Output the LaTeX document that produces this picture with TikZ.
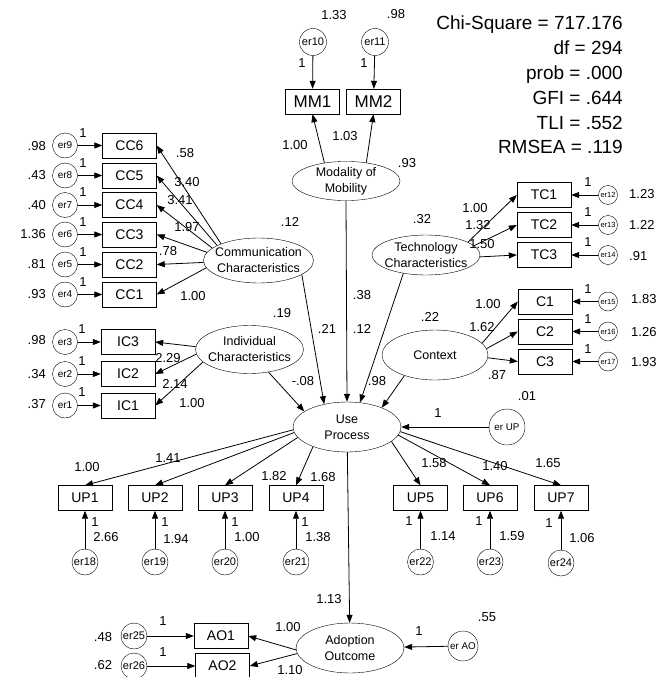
\documentclass[tikz,border=0pt]{standalone}
\usepackage{fontspec}
\setmainfont{Liberation Sans}
\usetikzlibrary{arrows.meta, shapes.geometric}
\newcommand{\mline}[1]{\makebox[0pt]{#1}}
\tikzset{
  obs/.style={draw, minimum width=54pt, minimum height=25pt, inner sep=0pt, font=\fontsize{14}{16}\selectfont},
  lat/.style={draw, ellipse, minimum width=108pt, minimum height=46pt, inner sep=0pt, align=center,
    font=\fontsize{12.5}{16}\selectfont},
  err/.style={draw, circle, minimum size=25pt, inner sep=0pt, font=\fontsize{10}{11}\selectfont},
  num/.style={inner sep=0pt, font=\fontsize{13}{15}\selectfont},
  arr/.style={-{Triangle[length=8pt, width=6pt]}, line width=0.8pt},
}

\begin{document}
\begin{tikzpicture}[x=1pt, y=-1pt,
      errw/.style={err, minimum size=26pt, font=\fontsize{11}{12}\selectfont},
      errs/.style={err, minimum size=19pt, font=\fontsize{7.5}{8}\selectfont},
      errb/.style={err, minimum size=#1, font=\fontsize{9.8}{11}\selectfont}]
  \useasboundingbox (0,0) rectangle (665,677);
  % fit indices
  \node[anchor=north east, align=right, inner sep=0pt, font=\fontsize{19}{24.8}\selectfont] (fit) at (623,16)
    {Chi-Square = 717.176\\df = 294\\prob = .000\\GFI = .644\\TLI = .552\\RMSEA = .119};

  % latent variables
  \node[lat, minimum width=108pt, minimum height=38pt] (mob) at (346,181) {\mline{Modality of}\\\mline{Mobility}};
  \node[lat, minimum width=110pt, minimum height=45pt] (comm) at (258.5,260.5) {\mline{Communication}\\\mline{Characteristics}};
  \node[lat, minimum width=108pt, minimum height=48pt] (indiv) at (249.5,349.5) {\mline{Individual}\\\mline{Characteristics}};
  \node[lat, minimum width=108pt, minimum height=40pt] (tech) at (426,255) {\mline{Technology}\\\mline{Characteristics}};
  \node[lat, minimum width=106pt, minimum height=50pt] (ctx) at (435,355) {\mline{Context}};
  \node[lat, minimum width=108pt, minimum height=50pt] (use) at (347,427) {\mline{Use}\\\mline{Process}};
  \node[lat, minimum width=108pt, minimum height=50pt] (ado) at (350,648) {\mline{Adoption}\\\mline{Outcome}};

  % observed variables
  \node[obs, font=\fontsize{17}{18}\selectfont] (mm1) at (312.5,101.5) {MM1};
  \node[obs, font=\fontsize{17}{18}\selectfont] (mm2) at (373.5,101.5) {MM2};
  \node[obs] (cc6) at (129.5,145.5) {CC6};
  \node[obs] (cc5) at (129.5,175.5) {CC5};
  \node[obs] (cc4) at (129.5,205) {CC4};
  \node[obs] (cc3) at (129.5,234.5) {CC3};
  \node[obs] (cc2) at (129.5,264.5) {CC2};
  \node[obs] (cc1) at (129.5,294.5) {CC1};
  \node[obs] (ic3) at (128,342) {IC3};
  \node[obs] (ic2) at (128,374) {IC2};
  \node[obs] (ic1) at (128,405.5) {IC1};
  \node[obs] (tc1) at (544,195) {TC1};
  \node[obs] (tc2) at (544,225) {TC2};
  \node[obs] (tc3) at (544,255) {TC3};
  \node[obs] (c1) at (545,301.5) {C1};
  \node[obs] (c2) at (545,331.5) {C2};
  \node[obs] (c3) at (545,361.5) {C3};
  \node[obs] (up1) at (85,498) {UP1};
  \node[obs] (up2) at (155,498) {UP2};
  \node[obs] (up3) at (225,498) {UP3};
  \node[obs] (up4) at (296,498) {UP4};
  \node[obs] (up5) at (420.5,498) {UP5};
  \node[obs] (up6) at (490,498) {UP6};
  \node[obs] (up7) at (561,498) {UP7};
  \node[obs] (ao1) at (221,636) {AO1};
  \node[obs] (ao2) at (222.5,666) {AO2};

  % error terms
  \node[errw, minimum size=27pt] (e10) at (313,42) {er10};
  \node[errw, minimum size=27pt] (e11) at (375,42) {er11};
  \node[err] (e9) at (65,145.5) {er9};
  \node[err] (e8) at (65,175.5) {er8};
  \node[err] (e7) at (65,205) {er7};
  \node[err] (e6) at (65,234.5) {er6};
  \node[err] (e5) at (65,264.5) {er5};
  \node[err] (e4) at (65,294.5) {er4};
  \node[err] (e3) at (65,342) {er3};
  \node[err] (e2) at (65,374) {er2};
  \node[err] (e1) at (65,405.5) {er1};
  \node[errs] (e12) at (608,195) {er12};
  \node[errs] (e13) at (608,225) {er13};
  \node[errs] (e14) at (608,255) {er14};
  \node[errs] (e15) at (608,301.5) {er15};
  \node[errs] (e16) at (608,331.5) {er16};
  \node[errs] (e17) at (608,361.5) {er17};
  \node[errw] (e18) at (85,562) {er18};
  \node[errw] (e19) at (155,562) {er19};
  \node[errw] (e20) at (225,562) {er20};
  \node[errw] (e21) at (296,562) {er21};
  \node[errw] (e22) at (420.5,562) {er22};
  \node[errw] (e23) at (490,562) {er23};
  \node[errw] (e24) at (561,563) {er24};
  \node[errb=36pt] (eup) at (507,427) {er UP};
  \node[errb=30pt] (eao) at (463,646) {er AO};
  \node[errw] (e25) at (134,636) {er25};
  \node[errw] (e26) at (134,666) {er26};

  % estimates
  \node[num] (v10) at (334,15) {1.33};  \node[num] (v11) at (396,14) {.98};
  \node[num] (w10) at (302,63) {1};     \node[num] (w11) at (364,63) {1};
  \node[num] (lmm1) at (295,145) {1.00}; \node[num] (lmm2) at (345,136) {1.03};
  \node[num] (rmob) at (407,163) {.93};
  \node[num, anchor=east] (v9) at (46,146) {.98};
  \node[num, anchor=east] (v8) at (46,175) {.43};
  \node[num, anchor=east] (v7) at (46,205) {.40};
  \node[num, anchor=east] (v6) at (46,234) {1.36};
  \node[num, anchor=east] (v5) at (46,264) {.81};
  \node[num, anchor=east] (v4) at (46,294) {.93};
  \node[num] (w9) at (83,133) {1};  \node[num] (w8) at (83,163) {1};
  \node[num] (w7) at (83,192.5) {1}; \node[num] (w6) at (83,222) {1};
  \node[num] (w5) at (83,252) {1};  \node[num] (w4) at (83,282) {1};
  \node[num] (lcc6) at (185,153) {.58};  \node[num] (lcc5) at (187,182) {3.40};
  \node[num] (lcc4) at (180,200) {3.41}; \node[num] (lcc3) at (187,227) {1.97};
  \node[num] (lcc2) at (168,251) {.78};  \node[num] (lcc1) at (193,296) {1.00};
  \node[num] (rcomm) at (290,222) {.12}; \node[num] (rindiv) at (282,313) {.19};
  \node[num, anchor=east] (v3) at (46,340) {.98};
  \node[num, anchor=east] (v2) at (46,374) {.34};
  \node[num, anchor=east] (v1) at (46,404) {.37};
  \node[num] (w3) at (82,329) {1}; \node[num] (w2) at (82,361) {1}; \node[num] (w1) at (82,392) {1};
  \node[num] (lic2) at (168,358) {2.29}; \node[num] (lic1b) at (175,384) {2.14};
  \node[num] (lic1) at (192,403) {1.00};
  \node[num] (pind) at (303,381) {-.08}; \node[num] (pcomm) at (327,329) {.21};
  \node[num] (pmob) at (362,295) {.38};  \node[num] (ptech) at (362,329) {.12};
  \node[num] (pctx) at (377,381) {.98};  \node[num] (rctx) at (430,317) {.22};
  \node[num] (rtech) at (422,219) {.32};
  \node[num] (ltc1) at (475,208) {1.00}; \node[num] (ltc2) at (478,225) {1.32};
  \node[num] (ltc3) at (482,244) {1.50};
  \node[num] (w12) at (588,182) {1}; \node[num] (w13) at (588,212) {1}; \node[num] (w14) at (588,242) {1};
  \node[num, anchor=west] (v12) at (629,194) {1.23};
  \node[num, anchor=west] (v13) at (629,225) {1.22};
  \node[num, anchor=west] (v14) at (629,256) {.91};
  \node[num] (lc1) at (488,304) {1.00}; \node[num] (lc2) at (482,327) {1.62};
  \node[num] (lc3) at (497,375) {.87};
  \node[num] (w15) at (588,289) {1}; \node[num] (w16) at (588,319) {1}; \node[num] (w17) at (588,349) {1};
  \node[num, anchor=west] (v15) at (631,299) {1.83};
  \node[num, anchor=west] (v16) at (631,332) {1.26};
  \node[num, anchor=west] (v17) at (631,362) {1.93};
  \node[num] (vup) at (527,396) {.01}; \node[num] (wup) at (438,413) {1};
  \node[num] (lup1) at (87,467) {1.00};  \node[num] (lup2) at (168,458) {1.41};
  \node[num] (lup3) at (274,476) {1.82}; \node[num] (lup4) at (323,477) {1.68};
  \node[num] (lup5) at (434,463) {1.58}; \node[num] (lup6) at (495,466) {1.40};
  \node[num] (lup7) at (548,463) {1.65};
  \node[num] (w18) at (95,522) {1};  \node[num] (w19) at (165,522) {1};
  \node[num] (w20) at (235,522) {1}; \node[num] (w21) at (305,522) {1};
  \node[num] (w22) at (409,521) {1}; \node[num] (w23) at (479,521) {1};
  \node[num] (w24) at (549,523) {1};
  \node[num] (v18) at (106,537) {2.66}; \node[num] (v19) at (176,539) {1.94};
  \node[num] (v20) at (247,537) {1.00}; \node[num] (v21) at (318,537) {1.38};
  \node[num] (v22) at (443,536) {1.14}; \node[num] (v23) at (512,536) {1.59};
  \node[num] (v24) at (582,538) {1.06};
  \node[num] (pado) at (329,599) {1.13};
  \node[num] (lao1) at (288,627) {1.00}; \node[num] (lao2) at (290,670) {1.10};
  \node[num] (v25) at (103,637) {.48};  \node[num] (v26) at (103,665) {.62};
  \node[num] (w25) at (163,621) {1};    \node[num] (w26) at (163,652) {1};
  \node[num] (vao) at (487,617) {.55};  \node[num] (wao) at (419,631) {1};

  % paths
  \draw[arr] (e10) -- (mm1);
  \draw[arr] (e11) -- (mm2);
  \draw[arr] (mob.140) -- (mm1.south);
  \draw[arr] (mob.42) -- (mm2.south);
  \draw[arr] (e9) -- (cc6);
  \draw[arr] (e8) -- (cc5);
  \draw[arr] (e7) -- (cc4);
  \draw[arr] (e6) -- (cc3);
  \draw[arr] (e5) -- (cc2);
  \draw[arr] (e4) -- (cc1);
  \draw[arr] (comm.156) -- (cc6.east);
  \draw[arr] (comm.160) -- (cc5.east);
  \draw[arr] (comm.165) -- (cc4.east);
  \draw[arr] (comm.171) -- (cc3.east);
  \draw[arr] (comm.182) -- (cc2.east);
  \draw[arr] (comm.188) -- (cc1.east);
  \draw[arr] (e3) -- (ic3);
  \draw[arr] (e2) -- (ic2);
  \draw[arr] (e1) -- (ic1);
  \draw[arr] (indiv.177) -- (ic3.east);
  \draw[arr] (indiv.185) -- (ic2.east);
  \draw[arr] (indiv.195) -- (ic1.east);
  \draw[arr] (indiv.310) -- (use.160);
  \draw[arr] (comm.342) -- (use.135);
  \draw[arr] (mob.south) -- (use.north);
  \draw[arr] (tech.219) -- (use.62);
  \draw[arr] (ctx.214) -- (use.29);
  \draw[arr] (tech.17) -- (tc1.west);
  \draw[arr] (tech.11) -- (tc2.west);
  \draw[arr] (tech.358) -- (tc3.west);
  \draw[arr] (e12) -- (tc1);
  \draw[arr] (e13) -- (tc2);
  \draw[arr] (e14) -- (tc3);
  \draw[arr] (ctx.14) -- (c1.west);
  \draw[arr] (ctx.7) -- (c2.west);
  \draw[arr] (ctx.357) -- (c3.west);
  \draw[arr] (e15) -- (c1);
  \draw[arr] (e16) -- (c2);
  \draw[arr] (e17) -- (c3);
  \draw[arr] (eup) -- (use);
  \draw[arr] (use.183) -- (up1.north);
  \draw[arr] (use.186) -- (up2.north);
  \draw[arr] (use.192) -- (up3.north);
  \draw[arr] (use.210) -- (up4.north);
  \draw[arr] (use.342) -- (up5.north);
  \draw[arr] (use.351) -- (up6.north);
  \draw[arr] (use.355) -- (up7.north);
  \draw[arr] (e18) -- (up1);
  \draw[arr] (e19) -- (up2);
  \draw[arr] (e20) -- (up3);
  \draw[arr] (e21) -- (up4);
  \draw[arr] (e22) -- (up5);
  \draw[arr] (e23) -- (up6);
  \draw[arr] (e24) -- (up7);
  \draw[arr] (use) -- (ado);
  \draw[arr] (ado.182) -- (ao1.east);
  \draw[arr] (ado.186) -- (ao2.east);
  \draw[arr] (e25) -- (ao1);
  \draw[arr] (e26) -- (ao2);
  \draw[arr] (eao) -- (ado);
\end{tikzpicture}
\end{document}
